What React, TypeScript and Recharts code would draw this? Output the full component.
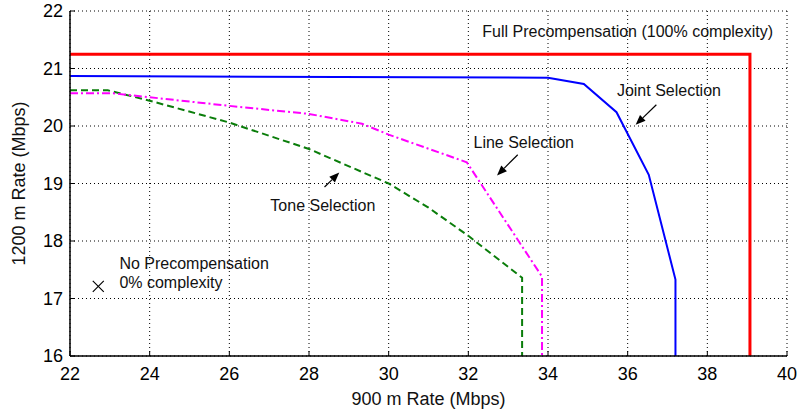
import React from 'react';
import {
  ComposedChart, Line, Scatter, XAxis, YAxis, CartesianGrid,
  ReferenceDot, ReferenceLine, Label,
} from 'recharts';

const FONT = '"Liberation Sans", Arial, Helvetica, sans-serif';

// axis ticks
const X_TICKS = [22, 24, 26, 28, 30, 32, 34, 36, 38, 40];
const Y_TICKS = [16, 17, 18, 19, 20, 21, 22];

// Full precompensation (100% complexity)
const fullX = [22, 39.07, 39.07];
const fullY = [21.25, 21.25, 16];

// Joint selection
const jointX = [22, 34, 34.9, 35.72, 36.53, 37.2, 37.2];
const jointY = [20.87, 20.84, 20.73, 20.24, 19.15, 17.33, 16];

// Line selection
const lineX = [22, 23.05, 24, 26, 28, 29.33, 30, 31.96, 33.85, 33.85];
const lineY = [20.57, 20.57, 20.5, 20.35, 20.21, 20.04, 19.85, 19.37, 17.38, 16];

// Tone selection
const toneX = [22, 22.95, 24, 26, 28, 30, 31, 32, 33.35, 33.35];
const toneY = [20.62, 20.62, 20.44, 20.06, 19.6, 19.0, 18.58, 18.09, 17.36, 16];

// No precompensation (0% complexity)
const noPreX = [22.71];
const noPreY = [17.21];

const zip = (xs: number[], ys: number[]) => xs.map((x, i) => ({ x, y: ys[i] }));

// text annotations, anchored at their left baseline (data units)
const notes = [
  { x: 32.35, y: 21.54, lines: ['Full Precompensation (100% complexity)'] },
  { x: 35.73, y: 20.52, lines: ['Joint Selection'] },
  { x: 32.13, y: 19.62, lines: ['Line Selection'] },
  { x: 27.03, y: 18.53, lines: ['Tone Selection'] },
  { x: 23.24, y: 17.52, lines: ['No Precompensation', '0% complexity'] },
];

// arrows: tail -> tip
const arrows = [
  { from: { x: 36.72, y: 20.37 }, to: { x: 36.2, y: 20.02 } },
  { from: { x: 33.24, y: 19.5 }, to: { x: 32.72, y: 19.14 } },
  { from: { x: 28.39, y: 18.94 }, to: { x: 28.76, y: 19.19 } },
];

const Arrow = (p: any) => {
  const { x1, y1, x2, y2 } = p;
  const a = Math.atan2(y2 - y1, x2 - x1);
  const L = 10, W = 4;
  const bx = x2 - L * Math.cos(a), by = y2 - L * Math.sin(a);
  const px = -Math.sin(a) * W, py = Math.cos(a) * W;
  return (
    <g>
      <line x1={x1} y1={y1} x2={bx} y2={by} stroke="#000" strokeWidth={1.2} />
      <polygon points={`${x2},${y2} ${bx + px},${by + py} ${bx - px},${by - py}`} fill="#000" />
    </g>
  );
};

const Cross = (p: any) => {
  const { cx, cy } = p;
  const s = 5.5;
  return (
    <g stroke="#000" strokeWidth={1.2}>
      <line x1={cx - s} y1={cy - s} x2={cx + s} y2={cy + s} />
      <line x1={cx - s} y1={cy + s} x2={cx + s} y2={cy - s} />
    </g>
  );
};

const noteShape = (lines: string[]) => (p: any) => (
  <text x={p.cx} y={p.cy} fontSize={16} fontFamily={FONT} fill="#111">
    {lines.map((t, i) => (
      <tspan key={i} x={p.cx} dy={i === 0 ? 0 : 19}>{t}</tspan>
    ))}
  </text>
);

export default function App() {
  return (
    <div style={{ position: 'absolute', left: 0, top: 0, width: 800, height: 414, background: '#fff' }}>
      <ComposedChart width={800} height={414} margin={{ top: 11, right: 13, bottom: 0, left: 0 }}>
        <CartesianGrid stroke="#000" strokeDasharray="1 3" strokeWidth={1} />
        <XAxis
          type="number" dataKey="x" domain={[22, 40]} ticks={X_TICKS} interval={0}
          allowDataOverflow height={58} tickSize={-5} tickMargin={16}
          axisLine={{ stroke: '#000', strokeWidth: 1.5 }} tickLine={{ stroke: '#000' }}
          tick={{ fill: '#000', fontSize: 18, fontFamily: FONT }}
        >
          <Label
            content={({ viewBox }: any) => (
              <text x={viewBox.x + viewBox.width / 2} y={399} textAnchor="middle"
                dominantBaseline="central" fontSize={18} fontFamily={FONT} fill="#111">
                900 m Rate (Mbps)
              </text>
            )}
          />
        </XAxis>
        <YAxis
          type="number" domain={[16, 22]} ticks={Y_TICKS} interval={0}
          allowDataOverflow width={70} tickSize={-5} tickMargin={12}
          axisLine={{ stroke: '#000', strokeWidth: 1.5 }} tickLine={{ stroke: '#000' }}
          tick={{ fill: '#000', fontSize: 18, fontFamily: FONT }}
        >
          <Label
            content={({ viewBox }: any) => {
              const cx = 19;
              const cy = viewBox.y + viewBox.height / 2;
              return (
                <text x={cx} y={cy} transform={`rotate(-90 ${cx} ${cy})`} textAnchor="middle"
                  dominantBaseline="central" fontSize={18} fontFamily={FONT} fill="#111">
                  1200 m Rate (Mbps)
                </text>
              );
            }}
          />
        </YAxis>

        <Line data={zip(toneX, toneY)} dataKey="y" type="linear" stroke="#0a7d0a" strokeWidth={2}
          strokeDasharray="7 4" dot={false} activeDot={false} isAnimationActive={false} />
        <Line data={zip(lineX, lineY)} dataKey="y" type="linear" stroke="#ff00ff" strokeWidth={2}
          strokeDasharray="8 3 2 3" dot={false} activeDot={false} isAnimationActive={false} />
        <Line data={zip(jointX, jointY)} dataKey="y" type="linear" stroke="#0000ff" strokeWidth={2}
          dot={false} activeDot={false} isAnimationActive={false} />
        <Line data={zip(fullX, fullY)} dataKey="y" type="linear" stroke="#ff0000" strokeWidth={3}
          dot={false} activeDot={false} isAnimationActive={false} />
        <Scatter data={zip(noPreX, noPreY)} dataKey="y" shape={Cross} isAnimationActive={false} />

        {arrows.map((a, i) => (
          <ReferenceLine key={`a${i}`} segment={[a.from, a.to]} shape={Arrow} />
        ))}
        {notes.map((n, i) => (
          <ReferenceDot key={`n${i}`} x={n.x} y={n.y} r={0} shape={noteShape(n.lines)} />
        ))}
      </ComposedChart>
    </div>
  );
}
